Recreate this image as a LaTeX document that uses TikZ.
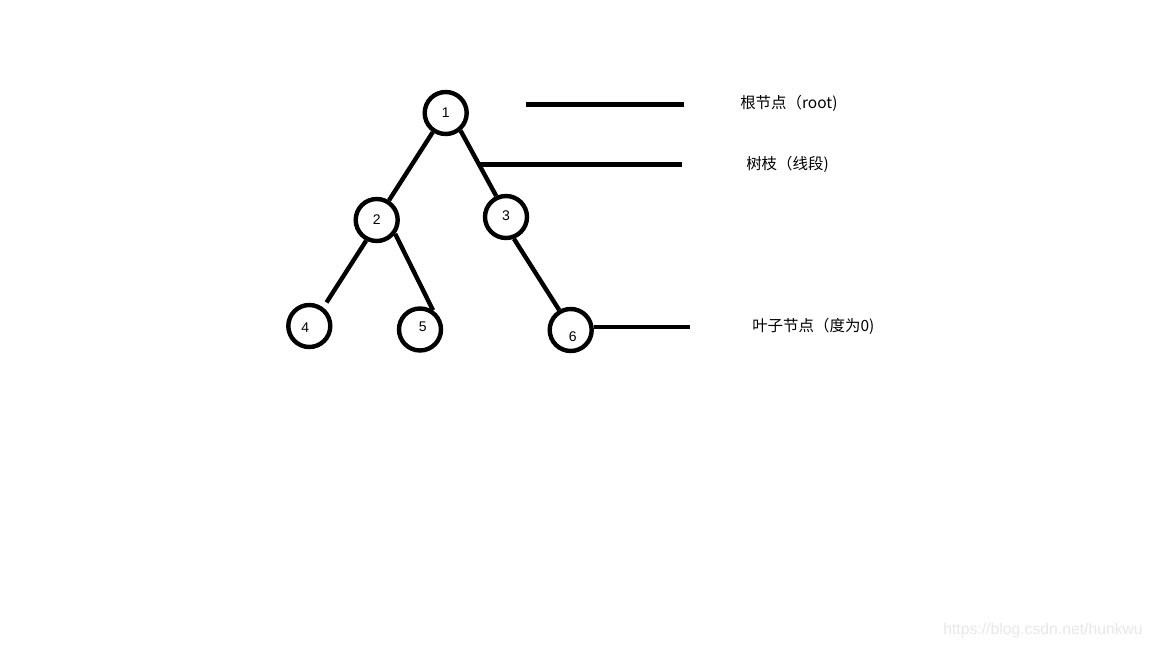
\documentclass[tikz,border=0pt]{standalone}
\usepackage{fontspec}
\setmainfont{Liberation Sans}
\newfontfamily\cjk{Noto Sans CJK SC}
\begin{document}
\begin{tikzpicture}[x=0.75pt,y=-0.75pt,
  circ/.style={circle,draw=black,line width=3.3pt,minimum size=31.5pt,inner sep=0pt},
  edge/.style={draw=black,line width=3.3pt},
  lbl/.style={anchor=west,inner sep=0pt,font=\cjk\fontsize{11.6}{13}\selectfont},
  dig/.style={font=\fontsize{10.5}{12}\selectfont,inner sep=0pt}]
\useasboundingbox[fill=white] (0,0) rectangle (1152,648);
\node[circ,label={[dig]center:1}] (n1) at (445.7,113) {};
\node[circ,label={[dig]center:2}] (n2) at (376.7,220) {};
\node[circ,label={[dig,yshift=1pt]center:3}] (n3) at (506,217) {};
\node[circ,label={[dig,xshift=-3pt,yshift=-1.5pt]center:4}] (n4) at (309.3,326) {};
\node[circ,label={[dig,xshift=2pt,yshift=2pt]center:5}] (n5) at (420,329.5) {};
\node[circ,label={[dig,xshift=1.5pt,yshift=-5pt]center:6}] (n6) at (570.7,330) {};
\path[edge] (n1.-124) -- (n2.58);
\path[edge] (n1.-50) -- (n3.115);
\path[edge,shorten >=4.5pt] (n2.-117) -- (n4.53);
\path[edge] (n2.-37) -- (n5.56);
\path[edge] (n3.-70) -- (n6.120);
\coordinate (r0) at (526,104.5);
\coordinate (r1) at (684,104.5);
\coordinate (b0) at (479,164.5);
\coordinate (b1) at (682,164.5);
\coordinate (l1) at (690,327);
\path[edge] (r0) -- (r1);
\path[edge] (b0) -- (b1);
\path[edge] (n6.8) -- (n6.8 -| l1);
\node[lbl] (t1) at (740,103) {根节点（root)};
\node[lbl] (t2) at (746,164) {树枝（线段)};
\node[lbl] (t3) at (752,326) {叶子节点（度为0)};
\node[anchor=east,inner sep=0pt,text=black!9,font=\fontsize{11.8}{13}\selectfont] (wm) at (1143,630) {https://blog.csdn.net/hunkwu};
\end{tikzpicture}
\end{document}
